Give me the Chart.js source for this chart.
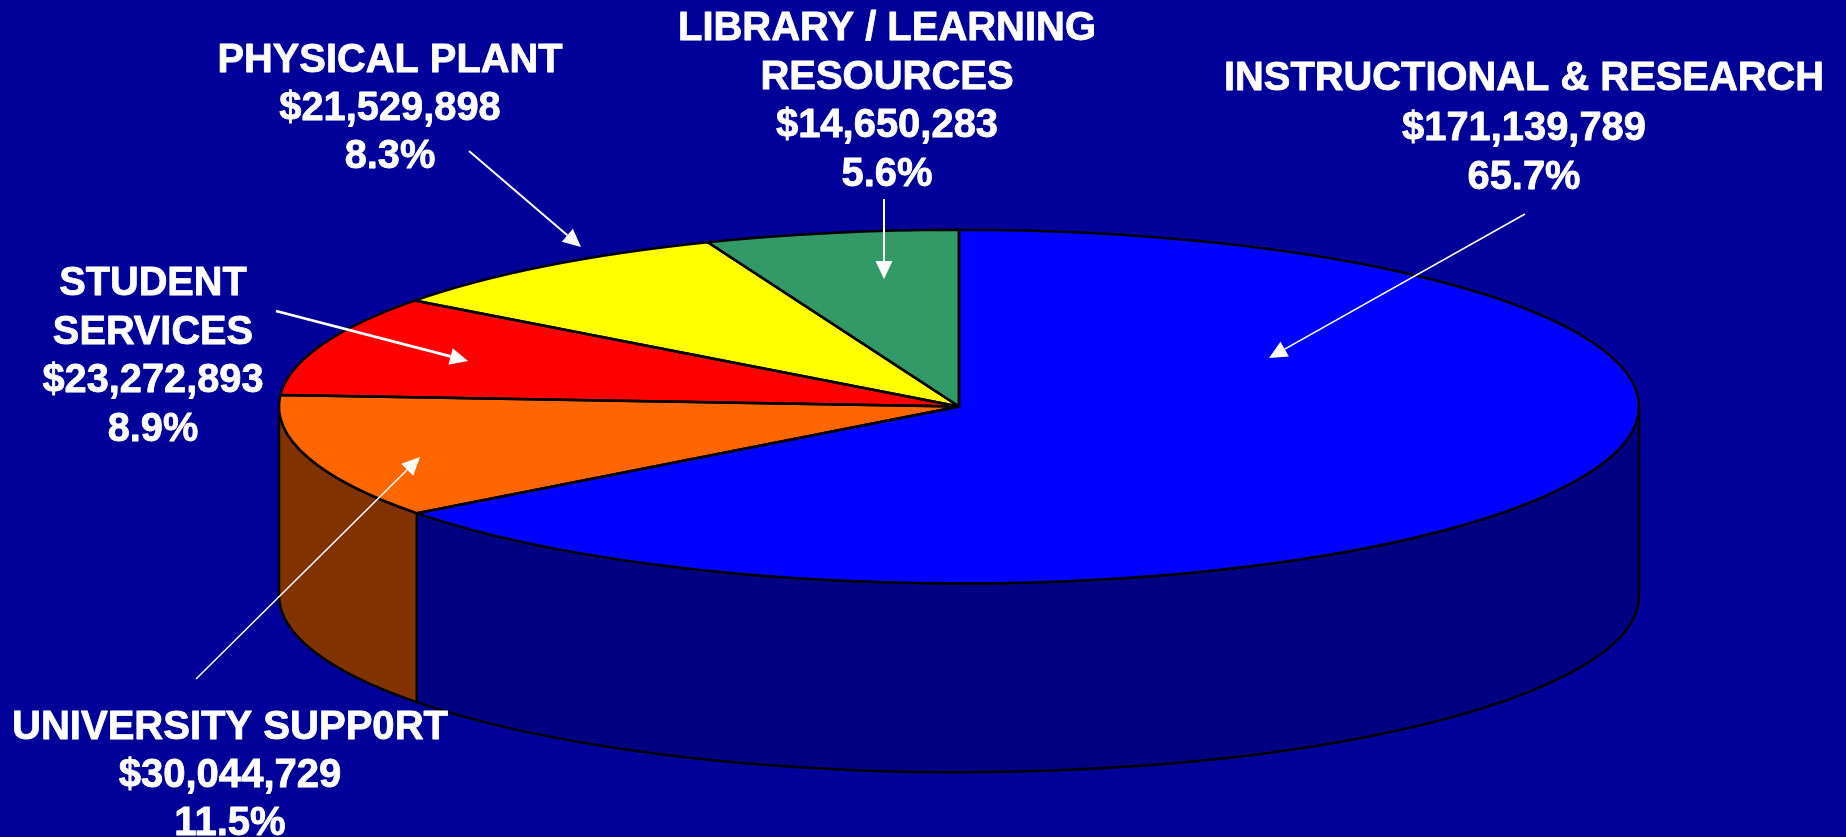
<!DOCTYPE html>
<html>
<head>
<meta charset="utf-8">
<style>html,body{margin:0;padding:0;background:#000099;overflow:hidden}canvas{display:block}</style>
<script src="https://cdn.jsdelivr.net/npm/chart.js@4/dist/chart.umd.min.js"></script>
</head>
<body>
<canvas id="c" width="1846" height="837"></canvas>
<script>
const categories = [['INSTRUCTIONAL & RESEARCH'], ['UNIVERSITY SUPP0RT'], ['STUDENT', 'SERVICES'], ['PHYSICAL PLANT'], ['LIBRARY / LEARNING', 'RESOURCES']];
const amounts = [171139789, 30044729, 23272893, 21529898, 14650283];
const percents = ['65.7%', '11.5%', '8.9%', '8.3%', '5.6%'];
const topColors = ['#0000FF', '#FF6600', '#FF0000', '#FFFF00', '#339966'];
const wallColors = ['#000080', '#803300', '#800000', '#808000', '#1A4D33'];

// label block layout: centre x, first baseline y, line pitch, target width of the widest line
const labelLayout = [
  {x: 1524, y: 90, pitch: 49.5, width: 600},
  {x: 230, y: 739, pitch: 48, width: 436},
  {x: 153, y: 295, pitch: 48.5, width: 221},
  {x: 390, y: 72, pitch: 48, width: 345},
  {x: 887, y: 40, pitch: 48.7, width: 418}
];
const arrows = [
  [1525, 214, 1269, 358],
  [196, 679, 420, 457],
  [276, 311, 468, 361],
  [469, 151, 581, 247],
  [884, 199, 884, 279]
];
const arrowWidths = [1.5, 1.5, 2.8, 2, 2];
const TILT = 0.26, DEPTH = 189, RADIUS = 680;
const SKEW = 4.2 * Math.PI / 180;
const EDGE = 2.5;

const pie3d = {
  id: 'pie3d',
  afterDatasetsUpdate(chart) {
    // oblique-view correction of the slice edges, as in the 3-D original
    const warp = a => { const t = a + Math.PI / 2; return a + SKEW * Math.sin(t); };
    chart.getDatasetMeta(0).data.forEach(arc => {
      const s = warp(arc.startAngle), e = warp(arc.endAngle);
      arc.startAngle = s; arc.endAngle = e; arc.circumference = e - s;
    });
  },
  beforeDatasetsDraw(chart) {
    const ctx = chart.ctx, arcs = chart.getDatasetMeta(0).data;
    const {x: cx, y: cy, outerRadius: r} = arcs[0];
    ctx.save();
    ctx.lineWidth = EDGE; ctx.strokeStyle = '#000'; ctx.lineJoin = 'round';
    arcs.forEach((arc, i) => {
      const a = Math.max(arc.startAngle, 0), b = Math.min(arc.endAngle, Math.PI);
      if (b <= a) return;
      ctx.beginPath();
      ctx.ellipse(cx, cy, r, r * TILT, 0, a, b);
      ctx.ellipse(cx, cy + DEPTH, r, r * TILT, 0, b, a, true);
      ctx.closePath();
      ctx.fillStyle = wallColors[i];
      ctx.fill(); ctx.stroke();
    });
    ctx.restore();
    ctx.save();
    ctx.translate(cx, cy); ctx.scale(1, TILT); ctx.translate(-cx, -cy);
  },
  afterDatasetsDraw(chart) {
    const ctx = chart.ctx, arcs = chart.getDatasetMeta(0).data;
    const {x: cx, y: cy, outerRadius: r} = arcs[0];
    ctx.restore();
    ctx.save();
    ctx.lineWidth = EDGE; ctx.strokeStyle = '#000'; ctx.lineJoin = 'round';
    arcs.forEach(arc => {
      ctx.beginPath();
      ctx.moveTo(cx, cy);
      ctx.ellipse(cx, cy, r, r * TILT, 0, arc.startAngle, arc.endAngle);
      ctx.closePath();
      ctx.stroke();
    });
    ctx.restore();
  },
  afterDraw(chart) {
    const ctx = chart.ctx;
    ctx.save();
    ctx.strokeStyle = ctx.fillStyle = '#fff';
    arrows.forEach(([x0, y0, x1, y1], i) => {
      const t = Math.atan2(y1 - y0, x1 - x0), L = 18, W = 8.5;
      const bx = x1 - L * Math.cos(t), by = y1 - L * Math.sin(t);
      ctx.lineWidth = arrowWidths[i];
      ctx.beginPath(); ctx.moveTo(x0, y0); ctx.lineTo(bx, by); ctx.stroke();
      ctx.beginPath(); ctx.moveTo(x1, y1);
      ctx.lineTo(bx - W * Math.sin(t), by + W * Math.cos(t));
      ctx.lineTo(bx + W * Math.sin(t), by - W * Math.cos(t));
      ctx.closePath(); ctx.fill();
    });
    ctx.font = 'bold 40px "Liberation Sans", Arial, sans-serif';
    ctx.textAlign = 'center'; ctx.textBaseline = 'alphabetic';
    ctx.lineWidth = 0.8; ctx.lineJoin = 'round';
    categories.forEach((name, i) => {
      const lines = [...name, '$' + amounts[i].toLocaleString('en-US'), percents[i]];
      const p = labelLayout[i];
      const widest = Math.max(...lines.map(l => ctx.measureText(l).width));
      const sx = p.width / widest;
      lines.forEach((l, j) => {
        ctx.save();
        ctx.translate(p.x, p.y + j * p.pitch);
        ctx.scale(sx, 1);
        ctx.fillText(l, 0, 0);
        ctx.strokeText(l, 0, 0);
        ctx.restore();
      });
    });
    ctx.restore();
  }
};

new Chart(document.getElementById('c'), {
  type: 'pie',
  data: {
    labels: categories.map(c => c.join(' ')),
    datasets: [{data: amounts, backgroundColor: topColors, borderWidth: 0, clip: false, radius: RADIUS}]
  },
  options: {
    responsive: false,
    animation: false,
    radius: RADIUS,
    layout: {padding: {left: 72, bottom: 24}},
    plugins: {legend: {display: false}, title: {display: false}, tooltip: {enabled: false}}
  },
  plugins: [pie3d]
});
</script>
</body>
</html>
